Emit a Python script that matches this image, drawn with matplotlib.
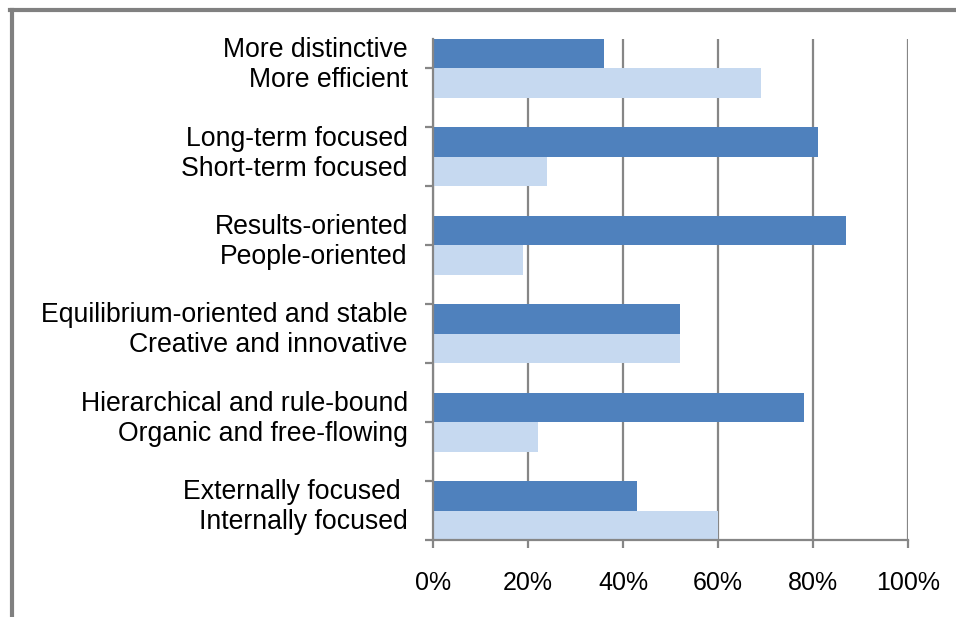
import matplotlib.pyplot as plt
from matplotlib.lines import Line2D
from matplotlib.ticker import PercentFormatter

plt.rcParams['font.family'] = ['Liberation Sans', 'DejaVu Sans']

top_labels = ["More distinctive", "Long-term focused", "Results-oriented",
              "Equilibrium-oriented and stable", "Hierarchical and rule-bound",
              "Externally focused "]
bottom_labels = ["More efficient", "Short-term focused", "People-oriented",
                 "Creative and innovative", "Organic and free-flowing",
                 "Internally focused"]
top_values = [36, 81, 87, 52, 78, 43]
bottom_values = [69, 24, 19, 52, 22, 60]

dark = '#4F81BD'
light = '#C6D9F0'
grey = '#868686'

fig = plt.figure(figsize=(9.56, 6.17), dpi=100)
ax = fig.add_axes([433 / 956, 1 - 540 / 617, 475 / 956, 501 / 617])

h = 0.5
pos = [1.5 * i for i in range(len(top_values))]
ax.barh([p + h / 2 for p in pos], top_values, height=h, color=dark, zorder=3)
ax.barh([p + 1.5 * h for p in pos], bottom_values, height=h, color=light, zorder=3)

ax.set_ylim(8.5, 0)
ax.set_xlim(0, 100)
ax.set_yticks([0.5 + i for i in range(9)])
ax.set_yticklabels([])
ax.set_xticks(range(0, 101, 20))
ax.xaxis.set_major_formatter(PercentFormatter(decimals=0))

ax.grid(axis='x', color=grey, linewidth=1.6, zorder=1)
for s in ['top', 'right']:
    ax.spines[s].set_visible(False)
for s in ['left', 'bottom']:
    ax.spines[s].set_color(grey)
    ax.spines[s].set_linewidth(1.6)
    ax.spines[s].set_zorder(4)
ax.tick_params(axis='both', color=grey, width=1.6, length=6)
ax.tick_params(axis='x', labelsize=18, pad=16)

for p, t, b in zip(pos, top_labels, bottom_labels):
    ax.text(-0.053, p + 0.19, t, transform=ax.get_yaxis_transform(),
            ha='right', va='center', fontsize=19.2)
    ax.text(-0.053, p + 0.70, b, transform=ax.get_yaxis_transform(),
            ha='right', va='center', fontsize=19.2)

# outer frame (left and top edges visible)
fig.add_artist(Line2D([12 / 956, 12 / 956], [0, 1 - 10 / 617],
                      transform=fig.transFigure, color='#808080', linewidth=3))
fig.add_artist(Line2D([10 / 956, 1], [1 - 10 / 617, 1 - 10 / 617],
                      transform=fig.transFigure, color='#808080', linewidth=3))

fig.savefig('out.png', dpi=100)
